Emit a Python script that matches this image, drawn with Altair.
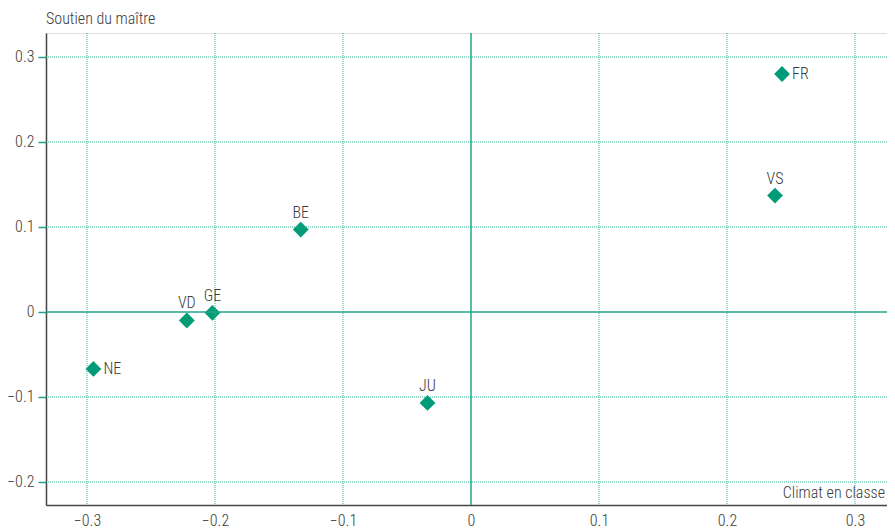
import altair as alt
import pandas as pd

cantons = ["FR", "VS", "BE", "GE", "VD", "NE", "JU"]
climat = [0.243, 0.2375, -0.133, -0.202, -0.222, -0.295, -0.034]
soutien = [0.280, 0.137, 0.097, -0.001, -0.010, -0.067, -0.107]
label_pos = ["right", "above", "above", "above", "above", "right", "above"]

x_ticks = [-0.3, -0.2, -0.1, 0, 0.1, 0.2, 0.3]
y_ticks = [-0.2, -0.1, 0, 0.1, 0.2, 0.3]

df = pd.DataFrame({"canton": cantons, "x": climat, "y": soutien, "pos": label_pos})
xgrid_df = pd.DataFrame({"v": [t for t in x_ticks if t != 0]})
ygrid_df = pd.DataFrame({"v": [t for t in y_ticks if t != 0]})

FONT = "Roboto Condensed, DejaVu Sans Condensed, Roboto"
WEIGHT = 300
GREEN = "#009B77"
ZERO = "#1fa588"
GRID = "#2fb58f"
TEXT = "#3a3a3a"
FS = 16

xs = alt.Scale(domain=[-0.33203125, 0.32499], nice=False, zero=False)
ys = alt.Scale(domain=[-0.227059, 0.328235], nice=False, zero=False)

xaxis = alt.Axis(values=x_ticks, format="~g", grid=False, ticks=False,
                 domainColor="#444444", domainWidth=1.5,
                 labelFont=FONT, labelFontSize=FS, labelFontWeight=WEIGHT, labelColor=TEXT,
                 labelPadding=7, title=None)
yaxis = alt.Axis(values=y_ticks, format="~g", grid=False, ticks=True, tickColor=ZERO,
                 tickSize=8, tickWidth=1.5, domainColor="#444444", domainWidth=1.5,
                 labelFont=FONT, labelFontSize=FS, labelFontWeight=WEIGHT, labelColor=TEXT,
                 labelPadding=4, title=None)

xgrid = alt.Chart(xgrid_df).mark_rule(color=GRID, strokeWidth=1, strokeDash=[1, 1]).encode(
    x=alt.X("v:Q", scale=xs, axis=xaxis))
ygrid = alt.Chart(ygrid_df).mark_rule(color=GRID, strokeWidth=1, strokeDash=[1, 1]).encode(
    y=alt.Y("v:Q", scale=ys, axis=yaxis))

base = alt.Chart(df)

points = base.mark_point(shape="diamond", filled=True, size=250, color=GREEN, opacity=1).encode(
    x=alt.X("x:Q", scale=xs, axis=xaxis),
    y=alt.Y("y:Q", scale=ys, axis=yaxis),
)

lab_right = base.transform_filter(alt.datum.pos == "right").mark_text(
    align="left", baseline="middle", dx=10, font=FONT, fontSize=FS, fontWeight=WEIGHT, color=TEXT
).encode(x=alt.X("x:Q", scale=xs, axis=xaxis), y=alt.Y("y:Q", scale=ys, axis=yaxis), text="canton:N")

lab_above = base.transform_filter(alt.datum.pos == "above").mark_text(
    align="center", baseline="middle", dy=-17, font=FONT, fontSize=FS, fontWeight=WEIGHT, color=TEXT
).encode(x=alt.X("x:Q", scale=xs, axis=xaxis), y=alt.Y("y:Q", scale=ys, axis=yaxis), text="canton:N")

zero_df = pd.DataFrame({"z": [0]})
vline = alt.Chart(zero_df).mark_rule(color=ZERO, strokeWidth=1.5).encode(
    x=alt.X("z:Q", scale=xs, axis=xaxis))
hline = alt.Chart(zero_df).mark_rule(color=ZERO, strokeWidth=1.5).encode(
    y=alt.Y("z:Q", scale=ys, axis=yaxis))

ytitle = alt.Chart(zero_df).mark_text(
    text="Soutien du maître", align="left", baseline="middle", font=FONT, fontSize=FS,
    fontWeight=WEIGHT, color=TEXT
).encode(x=alt.value(0), y=alt.value(-14))

xtitle = alt.Chart(zero_df).mark_text(
    text="Climat en classe", align="right", baseline="middle", font=FONT, fontSize=FS,
    fontWeight=WEIGHT, color=TEXT
).encode(x=alt.value(839), y=alt.value(460))

chart = alt.layer(points, xgrid, ygrid, vline, hline, lab_right, lab_above, ytitle, xtitle).properties(
    width=841, height=472,
    autosize=alt.AutoSizeParams(type="none"),
    padding={"left": 38, "top": 25, "right": 0, "bottom": 24},
).configure_view(stroke=ZERO, strokeWidth=1.5).configure(background="white")

chart.save("out.html", embed_options={"renderer": "svg", "actions": False})
